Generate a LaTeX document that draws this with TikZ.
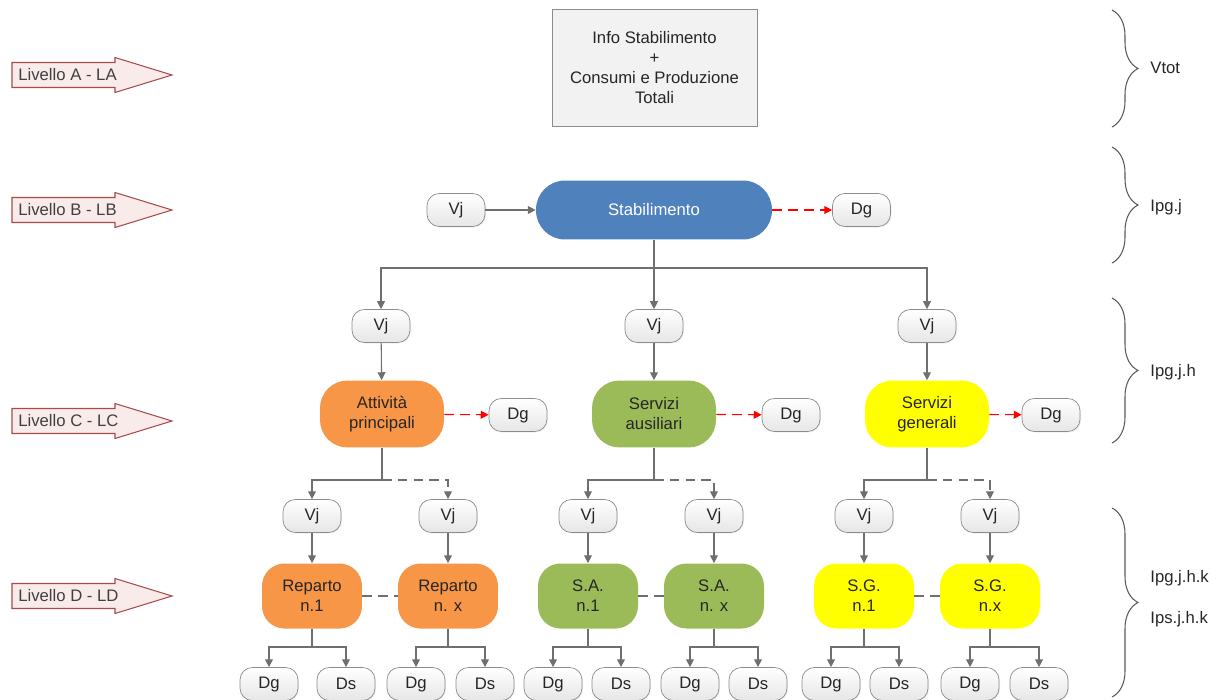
\documentclass[tikz,border=0pt]{standalone}
\usepackage{fontspec}
\setmainfont{Liberation Sans}
\usetikzlibrary{arrows.meta,decorations.pathreplacing,shadows}

\definecolor{linegray}{HTML}{6F6F6F}
\definecolor{pillgray}{HTML}{8C8C8C}
\definecolor{pillfill}{HTML}{E6E6E6}
\definecolor{boxfill}{HTML}{F2F2F2}
\definecolor{stabblue}{HTML}{4F81BD}
\definecolor{attorange}{HTML}{F79646}
\definecolor{ausgreen}{HTML}{9BBB59}
\definecolor{genyellow}{HTML}{FFFF00}
\definecolor{lvlfill}{HTML}{FAEBEB}
\definecolor{lvldraw}{HTML}{A84B4B}

\tikzset{
  every node/.style={font=\fontsize{9.5}{11.4}\selectfont, text=black!85},
  pill/.style={draw=pillgray, top color=white, bottom color=pillfill, rounded corners=7pt,
    minimum width=1.16cm, minimum height=0.66cm, inner sep=0pt,
    drop shadow={opacity=0.12, shadow xshift=0.6pt, shadow yshift=-0.6pt}},
  infobox/.style={draw=pillgray, fill=boxfill, minimum width=4.1cm, minimum height=2.34cm,
    align=center, inner sep=0pt, drop shadow={opacity=0.12, shadow xshift=0.8pt, shadow yshift=-0.8pt}},
  stabbox/.style={fill=stabblue, text=white, rounded corners=0.58cm, minimum width=4.72cm,
    minimum height=1.18cm, inner sep=0pt},
  areabox/.style={rounded corners=0.55cm, minimum width=2.48cm, minimum height=1.34cm,
    align=center, inner sep=0pt},
  unitbox/.style={rounded corners=0.45cm, minimum width=2cm, minimum height=1.3cm,
    align=center, inner sep=0pt},
  conn/.style={draw=linegray, line width=0.6pt, -{Triangle[length=4.5pt,width=4.5pt]}},
  dconn/.style={conn, dash pattern=on 5.5pt off 3.5pt},
  dline/.style={draw=linegray, line width=0.6pt, dash pattern=on 5.5pt off 3.5pt},
  rconn/.style={draw=red, line width=0.6pt, dash pattern=on 5.5pt off 3.5pt,
    -{Triangle[length=4.5pt,width=4.5pt]}},
  lvl/.style={draw=lvldraw, fill=lvlfill, line width=0.6pt},
  brc/.style={draw=black!65, line width=0.6pt, decorate, decoration={brace, amplitude=0.52cm}},
  lbl/.style={anchor=west, inner sep=0pt}
}

\begin{document}
\begin{tikzpicture}[x=0.02cm, y=-0.02cm]
\useasboundingbox (0,0) rectangle (1219,699);

% Level arrows on the left
\foreach \name/\lab/\yy in {la/A - LA/75, lb/B - LB/210, lc/C - LC/421, ld/D - LD/596} {
  \draw[lvl] (12,\yy-12.5) -- (115,\yy-12.5) -- (115,\yy-17.5) -- (172,\yy)
    -- (115,\yy+17.5) -- (115,\yy+12.5) -- (12,\yy+12.5) -- cycle;
  \node[lbl, text=black!75] (\name) at (18,\yy) {Livello \lab};
}

% Level A
\node[infobox] (info) at (654.5,67.5) {Info Stabilimento\\+\\Consumi e Produzione\\Totali};

% Level B
\node[stabbox] (stab) at (654,210) {Stabilimento};
\node[pill] (vjb) at (456,210) {Vj};
\node[pill] (dgb) at (861.5,210) {Dg};
\draw[conn] (vjb) -- (stab);
\draw[rconn] (stab) -- (dgb);

% Level C
\coordinate (busb) at (654,268);
\node[pill] (vjc1) at (381,326) {Vj};
\node[pill] (vjc2) at (654,326) {Vj};
\node[pill] (vjc3) at (927,326) {Vj};
\draw[conn] (stab) -- (vjc2);
\draw[conn] (busb) -| (vjc1);
\draw[conn] (busb) -| (vjc3);

\node[areabox, fill=attorange] (att) at (382,414) {Attività\\principali};
\node[areabox, fill=ausgreen] (aus) at (654,414) {Servizi\\ausiliari};
\node[areabox, fill=genyellow] (gen) at (927,414) {Servizi\\generali};
\draw[conn] (vjc1) -- (att);
\draw[conn] (vjc2) -- (aus);
\draw[conn] (vjc3) -- (gen);

\node[pill] (dgc1) at (518,415) {Dg};
\node[pill] (dgc2) at (791,415) {Dg};
\node[pill] (dgc3) at (1051,415) {Dg};
\draw[rconn] (att) -- (dgc1);
\draw[rconn] (aus) -- (dgc2);
\draw[rconn] (gen) -- (dgc3);

% Level D
\coordinate (busc1) at (382,480);
\coordinate (busc2) at (654,480);
\coordinate (busc3) at (927,480);
\node[pill] (vjd1) at (312,516) {Vj};
\node[pill] (vjd2) at (448,516) {Vj};
\node[pill] (vjd3) at (588,516) {Vj};
\node[pill] (vjd4) at (714,516) {Vj};
\node[pill] (vjd5) at (864,516) {Vj};
\node[pill] (vjd6) at (990,516) {Vj};
\draw[conn] (att) -- (busc1) -| (vjd1);
\draw[dconn] (busc1) -| (vjd2);
\draw[conn] (aus) -- (busc2) -| (vjd3);
\draw[dconn] (busc2) -| (vjd4);
\draw[conn] (gen) -- (busc3) -| (vjd5);
\draw[dconn] (busc3) -| (vjd6);

\node[unitbox, fill=attorange] (rep1) at (312,596) {Reparto\\n.1};
\node[unitbox, fill=attorange] (rep2) at (448,596) {Reparto\\n. x};
\node[unitbox, fill=ausgreen] (sa1) at (588,596) {S.A.\\n.1};
\node[unitbox, fill=ausgreen] (sa2) at (714,596) {S.A.\\n. x};
\node[unitbox, fill=genyellow] (sg1) at (864,596) {S.G.\\n.1};
\node[unitbox, fill=genyellow] (sg2) at (990,596) {S.G.\\n.x};
\draw[conn] (vjd1) -- (rep1);
\draw[conn] (vjd2) -- (rep2);
\draw[conn] (vjd3) -- (sa1);
\draw[conn] (vjd4) -- (sa2);
\draw[conn] (vjd5) -- (sg1);
\draw[conn] (vjd6) -- (sg2);
\draw[dline] (rep1) -- (rep2);
\draw[dline] (sa1) -- (sa2);
\draw[dline] (sg1) -- (sg2);

% Dg and Ds under each unit
\foreach \unit/\ux/\gx/\sx [count=\i] in {rep1/312/269/346, rep2/448/416/485, sa1/588/553/621,
    sa2/714/690/758, sg1/864/831/899, sg2/990/970/1039} {
  \coordinate (busd\i) at (\ux,647);
  \node[pill] (dg\i) at (\gx,684) {Dg};
  \node[pill] (ds\i) at (\sx,684) {Ds};
  \draw[conn] (\unit) -- (busd\i) -| (dg\i);
  \draw[conn] (busd\i) -| (ds\i);
}

% Braces on the right
\draw[brc] (1112,10) -- (1112,127);
\draw[brc] (1112,147) -- (1112,263);
\draw[brc] (1112,298) -- (1112,443);
\draw[brc] (1112,508) -- (1112,697);
\node[lbl] (vtot) at (1150,68) {Vtot};
\node[lbl] (ipgj) at (1150,207) {Ipg.j};
\node[lbl] (ipgjh) at (1150,372) {Ipg.j.h};
\node[lbl] (ipgjhk) at (1150,578) {Ipg.j.h.k};
\node[lbl] (ipsjhk) at (1150,619) {Ips.j.h.k};
\end{tikzpicture}
\end{document}
